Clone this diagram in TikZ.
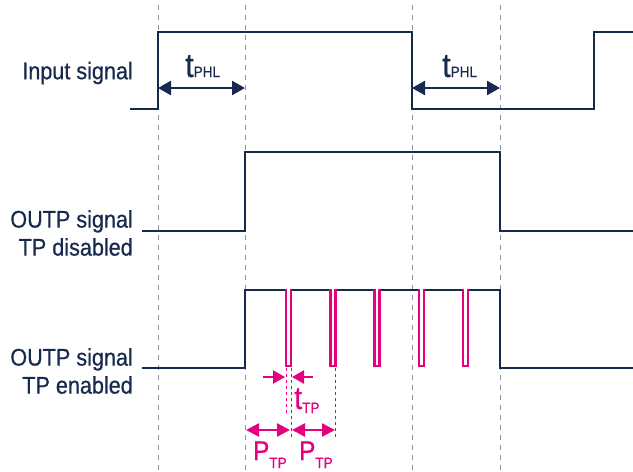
\documentclass[tikz,border=0pt]{standalone}
\usepackage{fontspec}
\setmainfont{Liberation Sans}[FakeStretch=0.9, FakeBold=0.6]
\usepackage{xcolor}
\usepackage{tikz}
\usetikzlibrary{arrows.meta,positioning,calc}
\definecolor{navy}{HTML}{17294D}
\definecolor{tpink}{HTML}{E5007E}
\definecolor{guidegray}{HTML}{8C93A8}

\tikzset{
  wave/.style={navy, line width=2.6pt},
  pulse/.style={tpink, line width=2.4pt},
  guide/.style={guidegray, line width=1pt, dash pattern=on 5pt off 5pt},
  tpguide/.style={tpink, line width=1pt, dash pattern=on 3pt off 3pt},
  phlspan/.style={navy, line width=2.6pt,
    {Triangle[length=13pt,width=14pt]}-{Triangle[length=13pt,width=14pt]}},
  tpspan/.style={tpink, line width=2.4pt,
    {Triangle[length=13pt,width=13pt]}-{Triangle[length=13pt,width=13pt]}},
  tparrow/.style={tpink, line width=2.4pt, -{Triangle[length=12pt,width=13pt]}},
  sig/.style={font=\fontsize{24}{28}\selectfont, text=navy, align=right, anchor=east,
    inner sep=0pt},
  lbl/.style={anchor=base west, inner sep=0pt},
}

\begin{document}
\begin{tikzpicture}[x=1pt, y=-1pt]
  \useasboundingbox (0,0) rectangle (633,472);

  % guides
  \foreach \x in {158,245,412,500}
    \draw[guide] (\x,5) -- (\x,472);

  % signal names
  \node[sig] (inName) at (133,73) {Input signal};
  \node[sig] (offName) at (133,233) {OUTP signal\\TP disabled};
  \node[sig] (onName) at (133,371) {OUTP signal\\TP enabled};

  % input
  \draw[wave] (130,109) -- (158,109) -- (158,32) -- (412,32) -- (412,109)
    -- (594,109) -- (594,32) -- (633,32);

  % OUTP, test pulses off
  \draw[wave] (142,231) -- (245,231) -- (245,152) -- (500,152) -- (500,231)
    -- (633,231);

  % OUTP, test pulses on
  \draw[wave] (142,368) -- (245,368) -- (245,290) -- (286,290);
  \foreach \i in {0,...,3}
    \draw[wave] ({291+44.3*\i},290) -- ({330.3+44.3*\i},290);
  \draw[wave] (468.2,290) -- (500,290) -- (500,368) -- (633,368);
  \foreach \i in {0,...,4}
    \draw[pulse] ({286+44.3*\i},288.7) -- ++(0,77.3) -- ++(5,0) -- ++(0,-77.3);

  % propagation delay
  \coordinate (rise1) at (158,88);
  \coordinate (out1) at (245,88);
  \coordinate (fall1) at (412,88);
  \coordinate (out2) at (500,88);
  \draw[phlspan] (rise1) -- (out1);
  \draw[phlspan] (fall1) -- (out2);
  \node[lbl, text=navy] (phl1) at (185,77)
    {\fontsize{34}{34}\selectfont t\fontsize{15}{15}\selectfont PHL};
  \node[lbl, text=navy] (phl2) at (442,77)
    {\fontsize{34}{34}\selectfont t\fontsize{15}{15}\selectfont PHL};

  % pulse width and period
  \draw[tpguide] (286,368) -- (286,415);
  \draw[tpguide] (291,368) -- (291,440);
  \draw[tpguide] (335,368) -- (335,440);
  \coordinate (wA) at (263,377);
  \coordinate (wB) at (285,377);
  \coordinate (wC) at (313,377);
  \coordinate (wD) at (292,377);
  \draw[tparrow] (wA) -- (wB);
  \draw[tparrow] (wC) -- (wD);
  \node[lbl, text=tpink] (ttp) at (294,409)
    {\fontsize{32}{32}\selectfont t\raisebox{-4pt}{\fontsize{15}{15}\selectfont TP}};
  \coordinate (pA) at (246,430);
  \coordinate (pB) at (290,430);
  \coordinate (pC) at (292,430);
  \coordinate (pD) at (335,430);
  \draw[tpspan] (pA) -- (pB);
  \draw[tpspan] (pC) -- (pD);
  \node[lbl, text=tpink] (ptp1) at (253,460)
    {\fontsize{27}{27}\selectfont P\raisebox{-8pt}{\fontsize{15}{15}\selectfont TP}};
  \node[lbl, text=tpink] (ptp2) at (299,460)
    {\fontsize{27}{27}\selectfont P\raisebox{-8pt}{\fontsize{15}{15}\selectfont TP}};
\end{tikzpicture}
\end{document}
